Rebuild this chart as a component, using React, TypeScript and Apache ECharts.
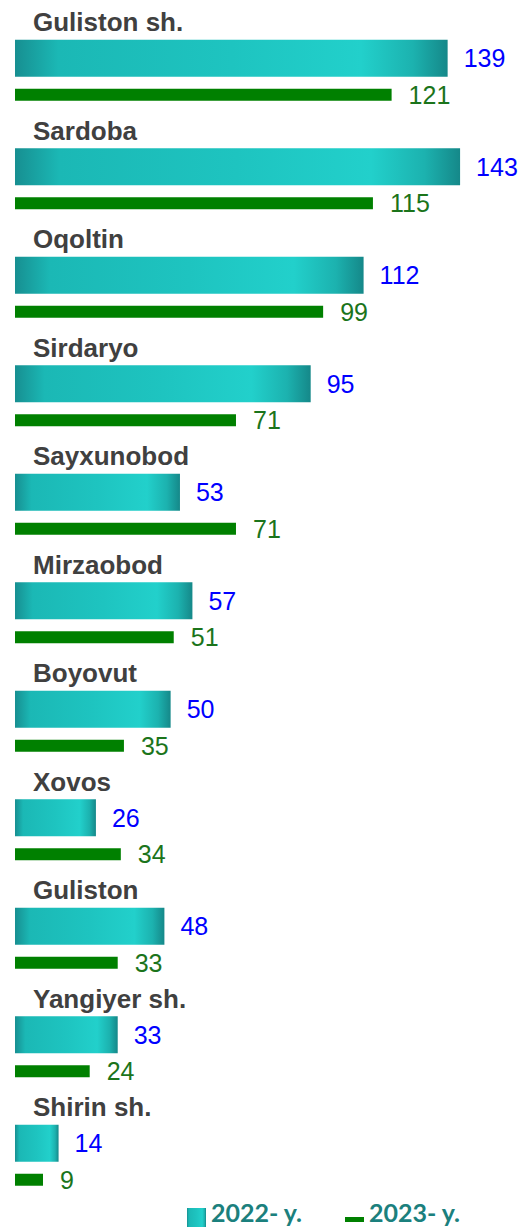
import React, { useEffect, useRef } from "react";
import * as echarts from "echarts";

const categories = [
  "Guliston sh.",
  "Sardoba",
  "Oqoltin",
  "Sirdaryo",
  "Sayxunobod",
  "Mirzaobod",
  "Boyovut",
  "Xovos",
  "Guliston",
  "Yangiyer sh.",
  "Shirin sh.",
];
const values2022 = [139, 143, 112, 95, 53, 57, 50, 26, 48, 33, 14];
const values2023 = [121, 115, 99, 71, 71, 51, 35, 34, 33, 24, 9];
const seriesNames = ["2022- y.", "2023- y."];

export default function App() {
  const ref = useRef<HTMLDivElement>(null);
  useEffect(() => {
    if (!ref.current) return;
    const chart = echarts.init(ref.current, null, { renderer: "svg" });
    const tealGradient = new echarts.graphic.LinearGradient(0, 0, 1, 0, [
      { offset: 0, color: "#178f91" },
      { offset: 0.1, color: "#1bb8b5" },
      { offset: 0.5, color: "#1ec4c0" },
      { offset: 0.8, color: "#22d0cb" },
      { offset: 0.92, color: "#1cb2af" },
      { offset: 1, color: "#158889" },
    ]);
    const legendFont = {
      fontSize: 25,
      fontWeight: "bold",
      color: "#1b807d",
      fontFamily: "Lato, sans-serif",
    };
    chart.setOption({
      animation: false,
      backgroundColor: "#ffffff",
      grid: { left: 15, right: 7, top: 16, height: 1193.5, containLabel: false },
      xAxis: {
        type: "value",
        min: 0,
        max: 160,
        show: false,
      },
      yAxis: {
        type: "category",
        inverse: true,
        data: categories,
        axisLine: { show: false },
        axisTick: { show: false },
        splitLine: { show: false },
        axisLabel: { show: false },
      },
      legend: [
        {
          left: 187,
          top: 1199,
          padding: 0,
          itemWidth: 19,
          itemHeight: 19,
          formatter: "{t|{name}}",
          textStyle: {
            ...legendFont,
            rich: { t: { ...legendFont, padding: [0, 0, 12, 0] } },
          },
          data: [{ name: seriesNames[0], icon: "rect" }],
        },
        {
          left: 345,
          top: 1199,
          padding: 0,
          itemWidth: 19,
          itemHeight: 19,
          formatter: "{t|{name}}",
          textStyle: {
            ...legendFont,
            rich: { t: { ...legendFont, padding: [0, 0, 16, 0] } },
          },
          data: [{ name: seriesNames[1], icon: "path://M0,7h19v5h-19z" }],
        },
      ],
      series: [
        {
          name: seriesNames[0],
          type: "bar",
          data: values2022,
          barWidth: 37,
          barGap: "32.4%",
          itemStyle: { color: tealGradient },
          label: {
            show: true,
            position: "right",
            distance: 16,
            fontSize: 25,
            color: "#0000ff",
            fontFamily: "Liberation Sans, Arial, sans-serif",
          },
        },
        {
          name: seriesNames[1],
          type: "bar",
          data: values2023,
          barWidth: 12,
          barGap: "32.4%",
          itemStyle: { color: "#008000" },
          label: {
            show: true,
            position: "right",
            distance: 17,
            fontSize: 25,
            color: "#1b741b",
            fontFamily: "Liberation Sans, Arial, sans-serif",
          },
        },
        {
          name: "names",
          type: "scatter",
          silent: true,
          symbolSize: 0,
          itemStyle: { opacity: 1 },
          data: categories.map((c) => [0, c]),
          label: {
            show: true,
            position: "right",
            distance: 18,
            offset: [0, -48],
            opacity: 1,
            formatter: (p: any) => p.value[1],
            fontSize: 26,
            fontWeight: "bold",
            color: "#404040",
            fontFamily: "Liberation Sans, Arial, sans-serif",
          },
        },
      ],
    });
    return () => chart.dispose();
  }, []);
  return (
    <div
      ref={ref}
      style={{ position: "fixed", left: 0, top: 0, width: 520, height: 1231 }}
    />
  );
}
